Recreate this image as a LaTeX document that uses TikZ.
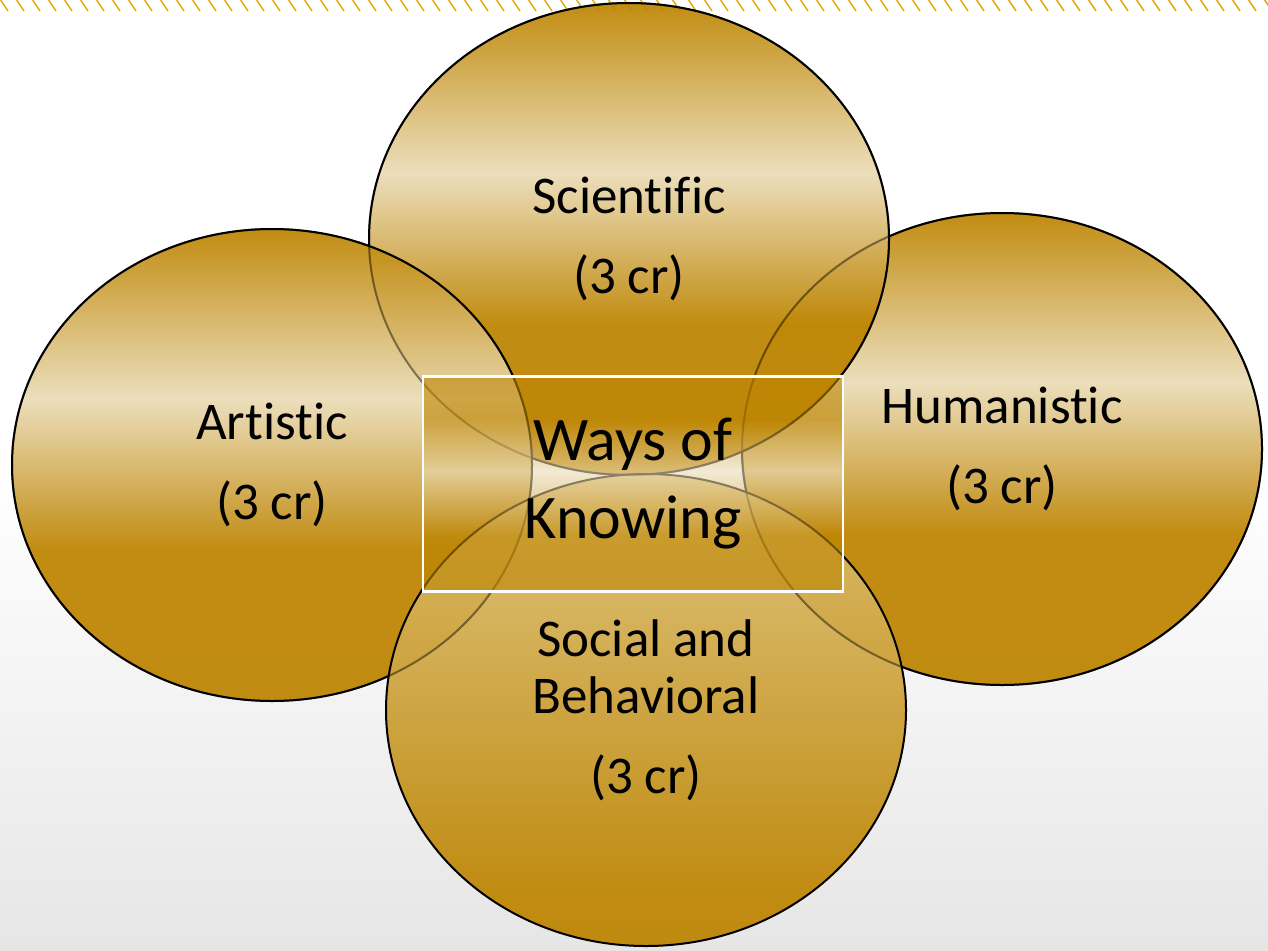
\documentclass[tikz,border=0pt]{standalone}
\usepackage{fontspec}
\setmainfont{Carlito}[Ligatures=NoCommon]
\usetikzlibrary{shapes.geometric}
\definecolor{vgold}{RGB}{189,132,0}
\definecolor{vlight}{RGB}{235,220,183}
\definecolor{vsand}{RGB}{222,194,121}
\definecolor{hatchgold}{RGB}{224,168,20}
\definecolor{bgbottom}{RGB}{230,230,230}
\pgfdeclareverticalshading{goldband}{100bp}{color(0bp)=(vgold); color(41bp)=(vgold); color(57bp)=(vlight); color(75bp)=(vgold); color(100bp)=(vgold)}
\pgfdeclareverticalshading{sandfade}{100bp}{color(0bp)=(vgold); color(30bp)=(vgold); color(75bp)=(vsand); color(100bp)=(vsand)}
\pgfdeclareverticalshading{boxband}{100bp}{color(0bp)=(vgold); color(38bp)=(vgold); color(53bp)=(vlight); color(65bp)=(vgold); color(100bp)=(vgold)}
\pgfdeclareverticalshading{pagebg}{100bp}{color(0bp)=(bgbottom); color(25bp)=(bgbottom); color(50bp)=(white); color(100bp)=(white)}
\begin{document}
\begin{tikzpicture}[x=1pt, y=-1pt,
        way/.style={ellipse, draw=black, line width=2pt, shade, shading=goldband, fill opacity=0.93, draw opacity=1, text opacity=1,
                    minimum width=520pt, minimum height=472pt, align=center, font=\fontsize{53}{57}\selectfont},
        rim/.style={draw=black, line width=2pt, draw opacity=0.4},
        core/.style={rectangle, draw=white, line width=2.2pt, shade, shading=boxband, fill opacity=0.6, draw opacity=1, text opacity=1,
                     minimum width=420pt, minimum height=215pt, align=center, font=\fontsize{62}{78}\selectfont}]
            \shade[shading=pagebg] (0,0) rectangle (1268,950);
            \useasboundingbox (0,0) rectangle (1268,950);
            \foreach \x in {0,16,...,1264}
                \draw[hatchgold, line width=1.5pt] (\x,-1) -- ++(8,12);

            \node[way] (humanistic) at (1002,449) {Humanistic\\[23pt](3 cr)};
            \node[way] (scientific) at (629,239) {Scientific\\[23pt](3 cr)};
            \node[way] (artistic) at (272,465) {Artistic\\[23pt](3 cr)};
            \node[way, shading=sandfade] (social) at (646,710) {Social and\\Behavioral\\[23pt](3 cr)};

            \foreach \n in {humanistic,scientific,artistic}
                \path[rim] (\n.center) ellipse [x radius=260, y radius=236];

            \node[core] (ways) at (633,484) {Ways of\\Knowing};
        \end{tikzpicture}
\end{document}
